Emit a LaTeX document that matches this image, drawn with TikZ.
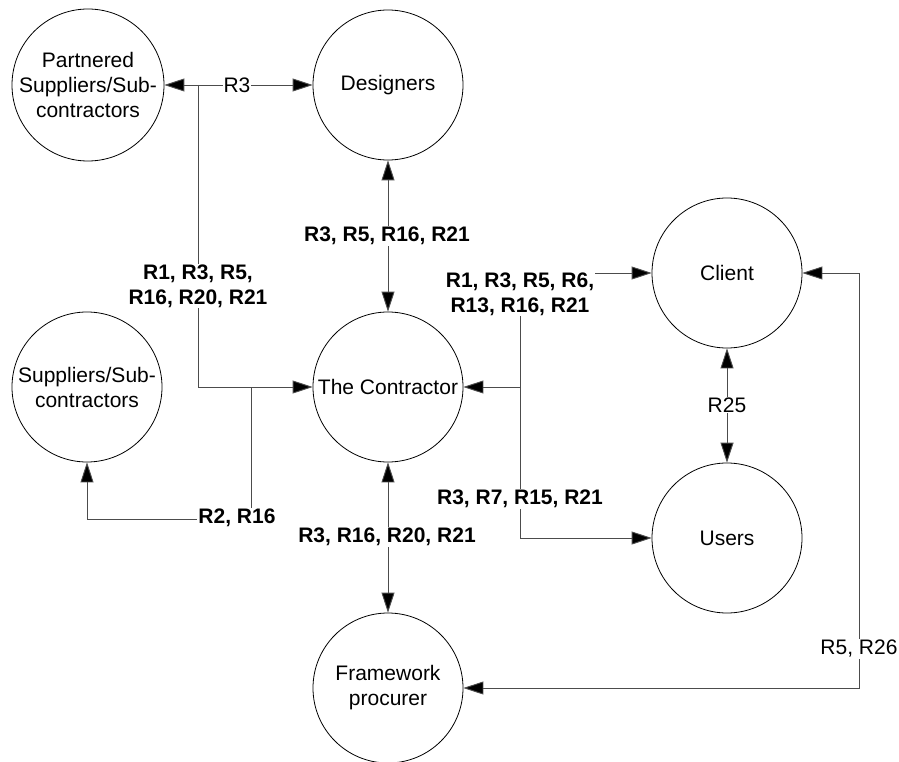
\documentclass[tikz,border=0pt]{standalone}
\usepackage{fontspec}
\setmainfont{Liberation Sans}
\usetikzlibrary{arrows.meta}
\begin{document}
\begin{tikzpicture}[x=1pt,y=-1pt,
  ent/.style={draw=black,line width=0.8pt,circle,minimum size=150pt,inner sep=0pt,align=center,font=\fontsize{21}{25}\selectfont},
  conn/.style={draw=black!70,line width=0.9pt,-{Triangle[length=20pt,width=13pt,fill=black]}},
  bconn/.style={draw=black!70,line width=0.9pt,{Triangle[length=20pt,width=13pt,fill=black]}-{Triangle[length=20pt,width=13pt,fill=black]}},
  plain/.style={draw=black!70,line width=0.9pt},
  blbl/.style={fill=white,inner sep=1pt,align=center,font=\bfseries\fontsize{21}{25}\selectfont},
  rlbl/.style={fill=white,inner sep=1pt,align=center,font=\fontsize{21}{25}\selectfont}]
\useasboundingbox (0,0) rectangle (899,762);
\node[ent] (P) at (88,85) {Partnered\\Suppliers/Sub-\\contractors};
\node[ent] (D) at (388,85) {Designers};
\node[ent] (S) at (87,387) {Suppliers/Sub-\\contractors};
\node[ent] (C) at (388,387) {The Contractor};
\node[ent] (Cl) at (727,273) {Client};
\node[ent] (U) at (727,538) {Users};
\node[ent] (F) at (388,688) {Framework\\procurer};
\coordinate (j1) at (198,85);
\coordinate (j2) at (251,387);
\coordinate (k2) at (251,519);
\coordinate (j3) at (520,387);
\coordinate (k4) at (859,688);
% connectors
\draw[bconn] (P.east) -- (D.west);
\draw[conn] (j1) |- (C.west);
\draw[plain] (j2) -- (k2);
\draw[conn] (k2) -| (S.south);
\draw[bconn] (D.south) -- (C.north);
\draw[bconn] (C.south) -- (F.north);
\draw[conn] (j3) -- (C.east);
\draw[conn] (j3) |- (Cl.west);
\draw[conn] (j3) |- (U.west);
\draw[bconn] (Cl.south) -- (U.north);
\draw[bconn] (Cl.east) -| (k4) -- (F.east);
% labels
\node[rlbl] (l1) at (237,85) {R3};
\node[blbl] (l2) at (198,286) {R1, R3, R5,\\R16, R20, R21};
\node[blbl] (l3) at (387,236) {R3, R5, R16, R21};
\node[blbl] (l4) at (387,537) {R3, R16, R20, R21};
\node[blbl] (l5) at (237,518) {R2, R16};
\node[blbl] (l6) at (520,294) {R1, R3, R5, R6,\\R13, R16, R21};
\node[blbl] (l7) at (520,499) {R3, R7, R15, R21};
\node[rlbl] (l8) at (727,405) {R25};
\node[rlbl] (l9) at (859,649) {R5, R26};
\end{tikzpicture}
\end{document}
